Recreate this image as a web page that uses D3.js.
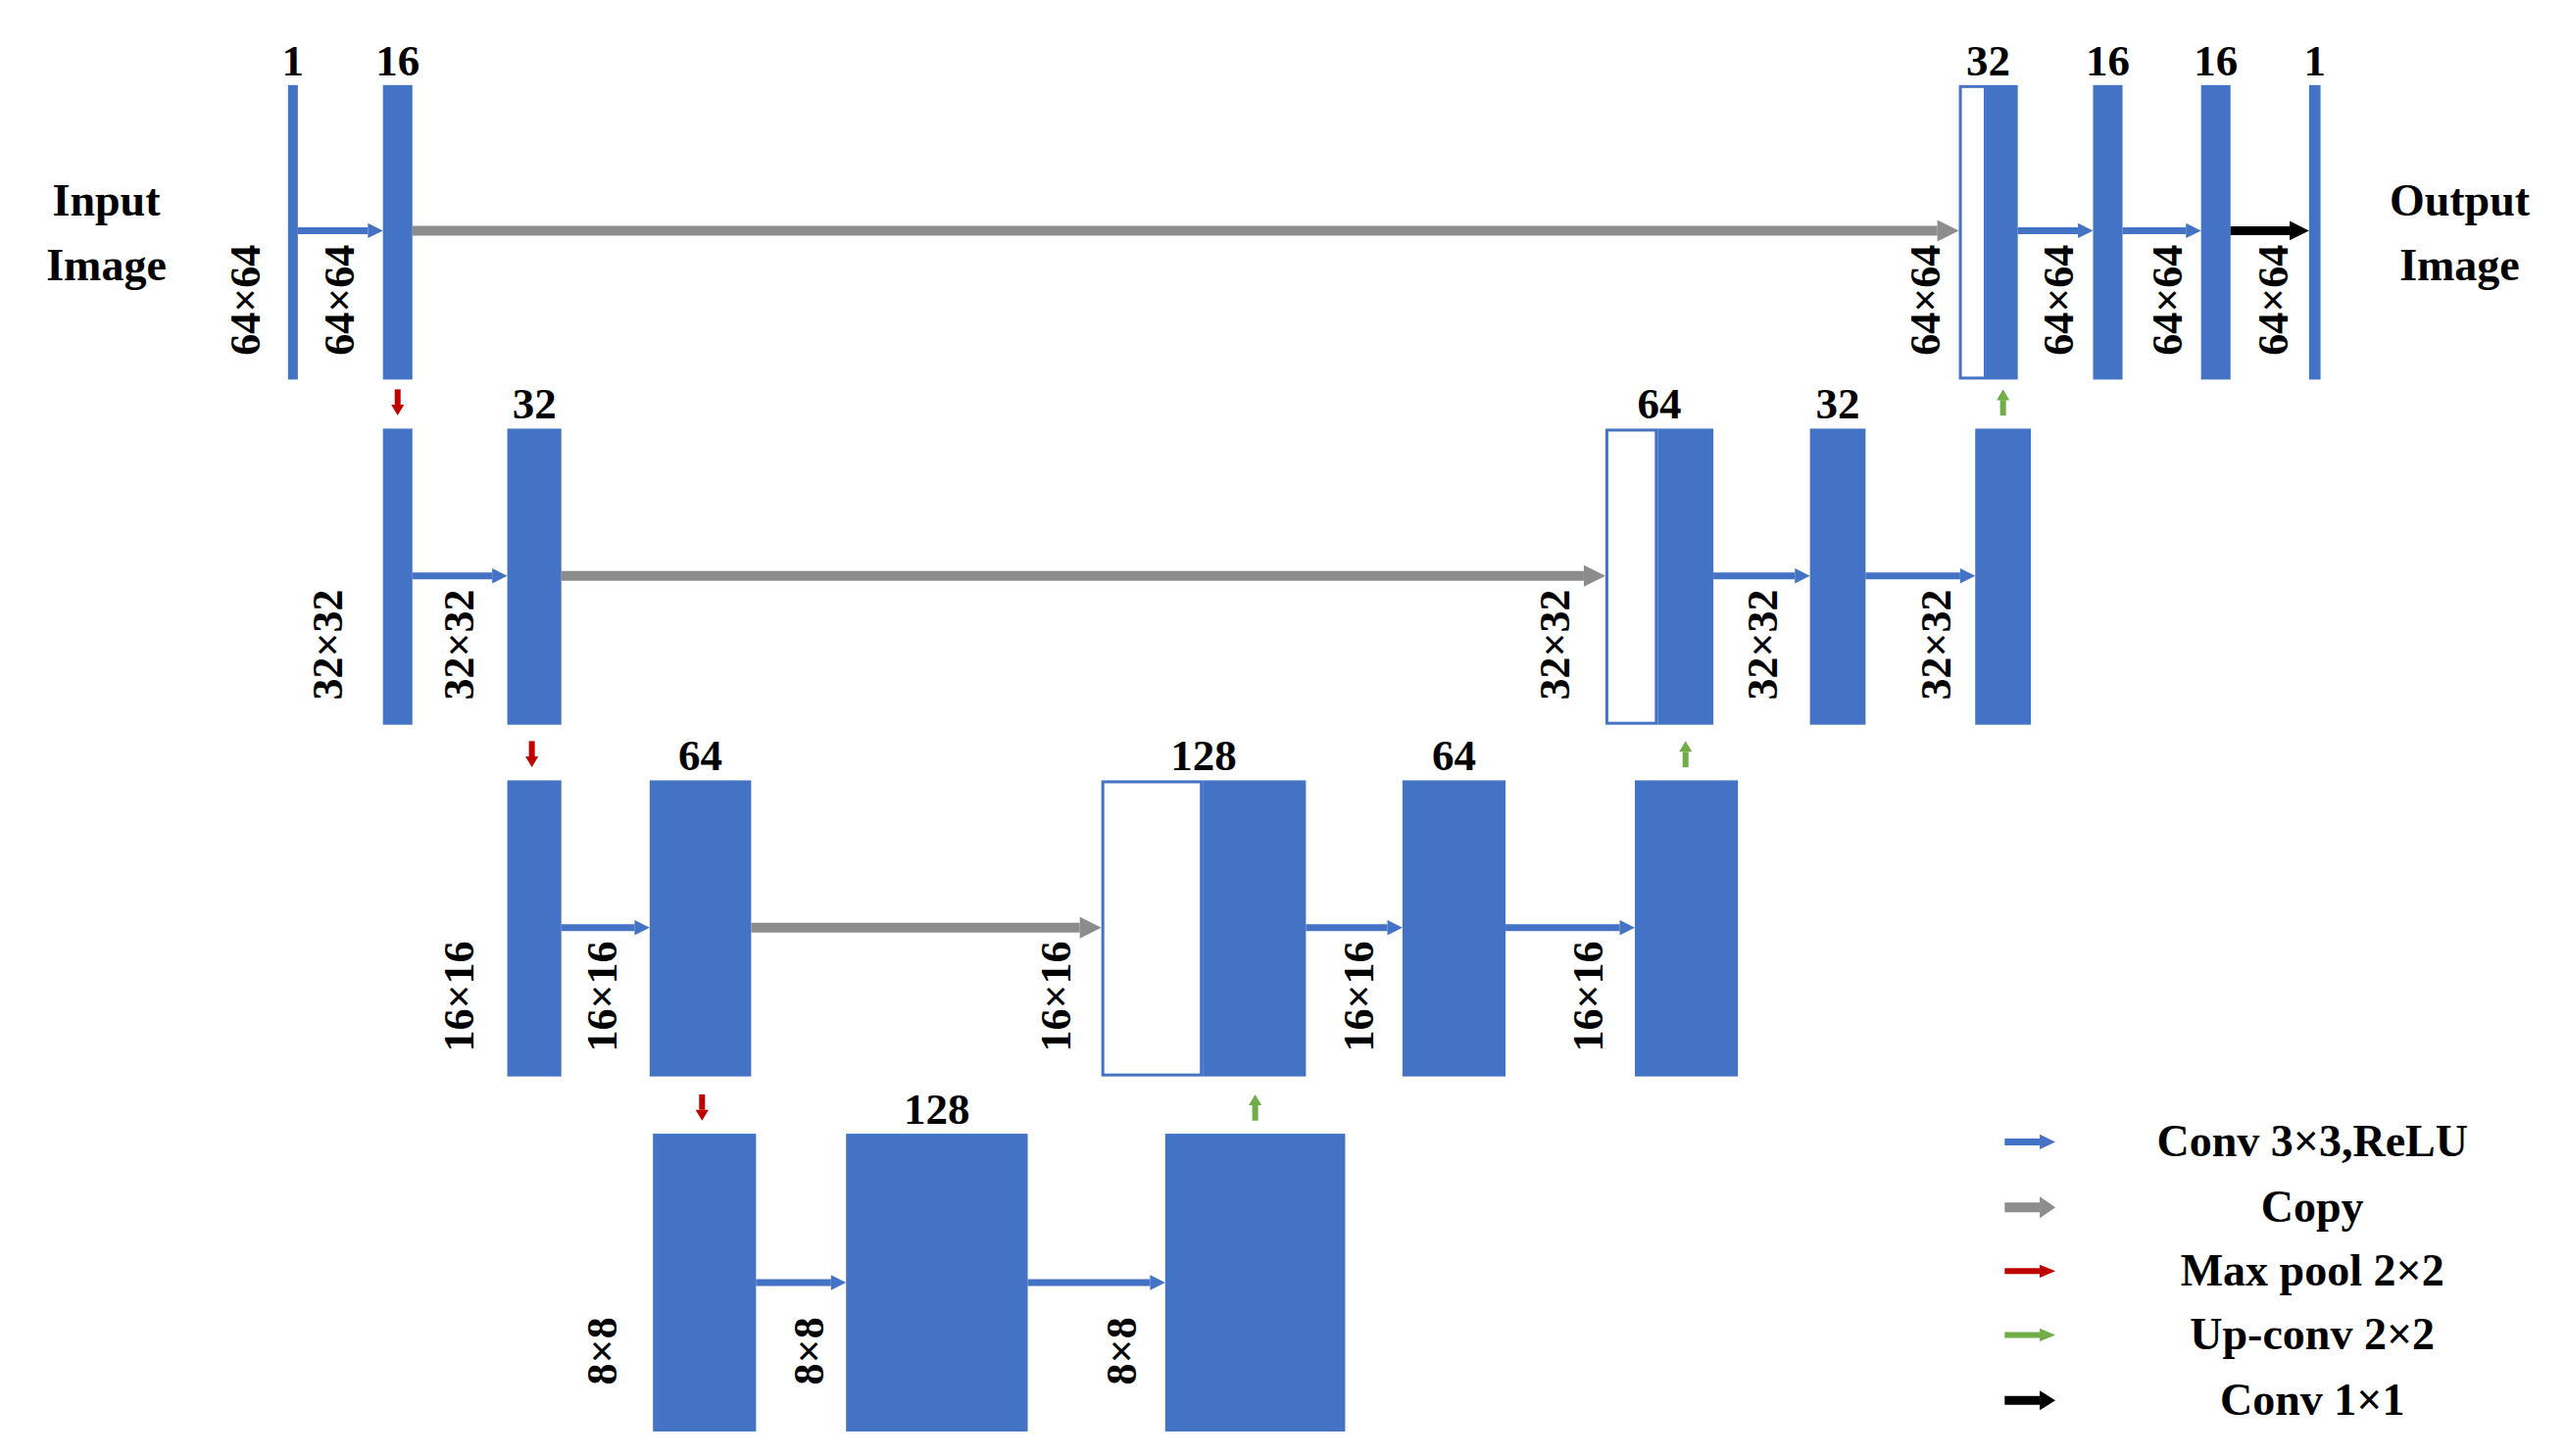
<!DOCTYPE html>
<html><head><meta charset="utf-8">
<script src="https://cdn.jsdelivr.net/npm/d3@7"></script>
<style>body{margin:0;background:#fff}</style>
</head><body>
<svg id="c" width="2618" height="1486"></svg>
<script>
// Layer rows (y range in reference units)
const rows = [{top:52,bot:232,arrowY:141},{top:262,bot:443,arrowY:352},{top:477,bot:658,arrowY:567},{top:693,bot:875,arrowY:784}];
// blocks: row, x0, x1, filled (false = copied/white), channel label
const blocks = [
 [0,176,182,true,"1"],[0,234,252,true,"16"],
 [0,1197,1214,false,""],[0,1214,1233,true,"32"],[0,1279,1297,true,"16"],[0,1345,1363,true,"16"],[0,1411,1418,true,"1"],
 [1,234,252,true,""],[1,310,343,true,"32"],[1,981,1013,false,""],[1,1013,1047,true,"64"],[1,1106,1140,true,"32"],[1,1207,1241,true,""],
 [2,310,343,true,""],[2,397,459,true,"64"],[2,673,735,false,""],[2,735,798,true,"128"],[2,857,920,true,"64"],[2,999,1062,true,""],
 [3,399,462,true,""],[3,517,628,true,"128"],[3,712,822,true,""]
];
const channelLabelX = {"0-1":179,"0-16a":243};
// arrows: row, x0, x1, type
const arrows = [
 [0,182,234,"conv"],[0,252,1197,"copy"],[0,1233,1279,"conv"],[0,1297,1345,"conv"],[0,1363,1411,"c11"],
 [1,252,310,"conv"],[1,343,981,"copy"],[1,1047,1106,"conv"],[1,1140,1207,"conv"],
 [2,343,397,"conv"],[2,459,673,"copy"],[2,798,857,"conv"],[2,920,999,"conv"],
 [3,462,517,"conv"],[3,628,712,"conv"]
];
// vertical small arrows: x, yTop, yBot, type
const vArrows = [[243,238,254,"pool"],[325,453,469,"pool"],[429,669,685,"pool"],
 [1224,254,238,"up"],[1030,469,453,"up"],[767,685,669,"up"]];
// size labels: row, x center, text
const sizeLabels = [
 [0,150,"64×64"],[0,207,"64×64"],[0,1176,"64×64"],[0,1258,"64×64"],[0,1324,"64×64"],[0,1389,"64×64"],
 [1,200,"32×32"],[1,280,"32×32"],[1,950,"32×32"],[1,1077,"32×32"],[1,1183,"32×32"],
 [2,280,"16×16"],[2,368,"16×16"],[2,645,"16×16"],[2,830,"16×16"],[2,970,"16×16"],
 [3,368,"8×8"],[3,494,"8×8"],[3,685,"8×8"]
];
const legendTypes = ["conv","copy","pool","up","c11"];
const legendLabels = ["Conv 3×3,ReLU","Copy","Max pool 2×2","Up-conv 2×2","Conv 1×1"];
const legendY = [698,738,777,816,856];

const colors = {conv:"#4472C4",copy:"#8C8C8C",pool:"#C00000",up:"#70AD47",c11:"#000000"};
const widths = {conv:7,copy:10,pool:6,up:6,c11:9};
const X = d3.scaleLinear().domain([0,1568]).range([0,2618]);
const Y = d3.scaleLinear().domain([0,890]).range([0,1486]);
const svg = d3.select("#c");
const font = "'Liberation Serif','Times New Roman',serif";

function arrow(x0,y0,x1,y1,type,head){
  const col=colors[type], w=widths[type];
  const dx=x1-x0, dy=y1-y0, L=Math.hypot(dx,dy), ux=dx/L, uy=dy/L;
  const h=head||w*2.2, hw=w*1.1;
  const bx=x1-ux*h, by=y1-uy*h;
  svg.append("line").attr("x1",x0).attr("y1",y0).attr("x2",bx).attr("y2",by)
    .attr("stroke",col).attr("stroke-width",w);
  svg.append("path").attr("d",`M${x1},${y1}L${bx-uy*hw},${by+ux*hw}L${bx+uy*hw},${by-ux*hw}Z`).attr("fill",col);
}

blocks.forEach(([r,x0,x1,f,lab])=>{
  const R=rows[r];
  svg.append("rect").attr("x",X(x0)+(f?0:1.5)).attr("y",Y(R.top)+(f?0:1.5))
    .attr("width",X(x1)-X(x0)-(f?0:3)).attr("height",Y(R.bot)-Y(R.top)-(f?0:3))
    .attr("fill",f?"#4472C4":"#fff").attr("stroke",f?"none":"#4472C4").attr("stroke-width",3);
});
// channel labels centered over the concatenated group
const groups=[[0,176,182,"1"],[0,234,252,"16"],[0,1197,1233,"32"],[0,1279,1297,"16"],[0,1345,1363,"16"],[0,1411,1418,"1"],
 [1,310,343,"32"],[1,981,1047,"64"],[1,1106,1140,"32"],[2,397,459,"64"],[2,673,798,"128"],[2,857,920,"64"],[3,517,628,"128"]];
groups.forEach(([r,x0,x1,t])=>{
  svg.append("text").attr("x",X((x0+x1)/2)).attr("y",Y(rows[r].top)-10)
    .attr("text-anchor","middle").attr("font-family",font).attr("font-weight","bold")
    .attr("font-size",45).text(t);
});
arrows.forEach(([r,x0,x1,t])=>arrow(X(x0),Y(rows[r].arrowY),X(x1),Y(rows[r].arrowY),t));
vArrows.forEach(([x,y0,y1,t])=>arrow(X(x),Y(y0),X(x),Y(y1),t,11));
sizeLabels.forEach(([r,x,t])=>{
  const cy=Y(rows[r].bot)-(Y(rows[r].bot)-Y(rows[r].top))*0.27;
  svg.append("text").attr("transform",`translate(${X(x)+15},${cy}) rotate(-90)`)
    .attr("text-anchor","middle").attr("font-family",font).attr("font-weight","bold")
    .attr("font-size",44).text(t);
});
[["Input",65,122],["Image",65,162],["Output",1503,122],["Image",1503,162]].forEach(([t,x,y])=>{
  svg.append("text").attr("x",X(x)).attr("y",Y(y)+16).attr("text-anchor","middle")
    .attr("font-family",font).attr("font-weight","bold").attr("font-size",46).text(t);
});
legendTypes.forEach((t,i)=>{
  arrow(X(1225),Y(legendY[i]),X(1256),Y(legendY[i]),t,16);
  svg.append("text").attr("x",X(1413)).attr("y",Y(legendY[i])+15).attr("text-anchor","middle")
    .attr("font-family",font).attr("font-weight","bold").attr("font-size",46).text(legendLabels[i]);
});
</script>
</body></html>
